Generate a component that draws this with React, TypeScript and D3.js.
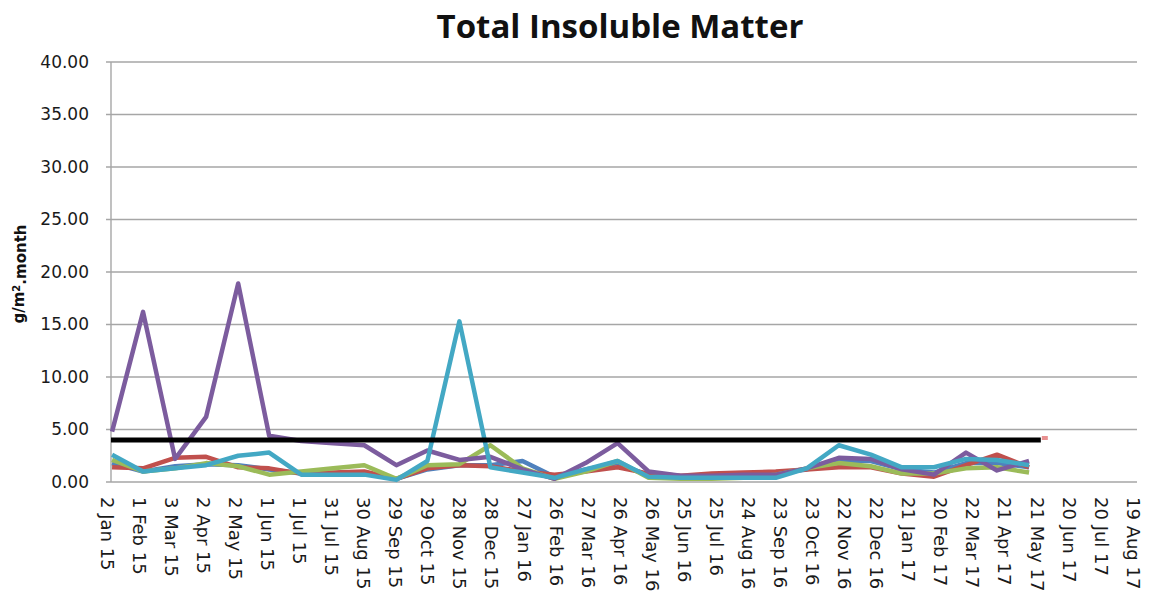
import * as d3 from 'd3';
import { useEffect, useRef } from 'react';

// sampling dates (roughly monthly)
const sampleDates = [
    '2015-01-03', '2015-02-01', '2015-03-03', '2015-04-01', '2015-05-01', '2015-05-30',
    '2015-06-29', '2015-07-29', '2015-08-27', '2015-09-26', '2015-10-25', '2015-11-24',
    '2015-12-23', '2016-01-22', '2016-02-21', '2016-03-21', '2016-04-20', '2016-05-19',
    '2016-06-18', '2016-07-17', '2016-08-16', '2016-09-15', '2016-10-14', '2016-11-13',
    '2016-12-13', '2017-01-11', '2017-02-10', '2017-03-12', '2017-04-10', '2017-05-10',
];

const blueValues = [1.8, 1.0, 1.5, 1.7, 1.6, 1.2, 0.8, 0.8, 0.9, 0.3, 1.2, 1.6, 1.6, 2.0, 0.5,
    1.2, 1.8, 0.6, 0.5, 0.6, 0.7, 0.8, 1.2, 2.0, 2.0, 1.2, 0.9, 1.8, 1.8, 1.4];
const redValues = [1.4, 1.3, 2.3, 2.4, 1.4, 1.3, 0.8, 0.9, 1.0, 0.3, 1.3, 1.6, 1.5, 1.0, 0.7,
    1.0, 1.4, 0.8, 0.6, 0.8, 0.9, 1.0, 1.2, 1.4, 1.4, 0.8, 0.5, 1.6, 2.6, 1.4];
const greenValues = [2.1, 1.0, 1.3, 1.8, 1.5, 0.7, 1.0, 1.3, 1.6, 0.3, 1.6, 1.7, 3.5, 1.3, 0.3,
    1.0, 2.0, 0.4, 0.3, 0.3, 0.4, 0.7, 1.3, 1.8, 1.5, 0.8, 0.8, 1.3, 1.4, 0.9];
const purpleValues = [4.8, 16.2, 2.2, 6.2, 18.9, 4.4, 3.9, 3.7, 3.5, 1.6, 3.0, 2.1, 2.4, 1.2, 0.3,
    1.8, 3.7, 1.0, 0.6, 0.6, 0.7, 0.7, 1.3, 2.3, 2.2, 1.2, 0.7, 2.8, 1.1, 2.0];
const tealValues = [2.6, 1.0, 1.3, 1.6, 2.5, 2.8, 0.7, 0.7, 0.7, 0.2, 2.0, 15.3, 1.4, 0.9, 0.4,
    1.2, 2.0, 0.5, 0.4, 0.4, 0.4, 0.4, 1.3, 3.5, 2.6, 1.4, 1.4, 2.2, 2.1, 1.6];

const limitDates = ['2015-01-02', '2017-05-21'];
const limitValues = [4, 4];

const xTickLabels = [
    '2 Jan 15', '1 Feb 15', '3 Mar 15', '2 Apr 15', '2 May 15', '1 Jun 15', '1 Jul 15', '31 Jul 15',
    '30 Aug 15', '29 Sep 15', '29 Oct 15', '28 Nov 15', '28 Dec 15', '27 Jan 16', '26 Feb 16', '27 Mar 16',
    '26 Apr 16', '26 May 16', '25 Jun 16', '25 Jul 16', '24 Aug 16', '23 Sep 16', '23 Oct 16', '22 Nov 16',
    '22 Dec 16', '21 Jan 17', '20 Feb 17', '22 Mar 17', '21 Apr 17', '21 May 17', '20 Jun 17', '20 Jul 17',
    '19 Aug 17',
];
const yTicks = [0, 5, 10, 15, 20, 25, 30, 35, 40];

const series = [
    { name: 'blue', color: '#4F81BD', values: blueValues },
    { name: 'red', color: '#C0504D', values: redValues },
    { name: 'green', color: '#9BBB59', values: greenValues },
    { name: 'purple', color: '#7C5C9E', values: purpleValues },
    { name: 'teal', color: '#43A8C4', values: tealValues },
];

export default function App() {
    const svgRef = useRef<SVGSVGElement>(null);
    const width = 1154;
    const height = 593;
    const margin = { top: 62, right: 17, bottom: 111, left: 111 };

    useEffect(() => {
        const svg = d3.select(svgRef.current);
        svg.selectAll('*').remove();

        const parseIso = d3.utcParse('%Y-%m-%d');
        const parseLabel = d3.utcParse('%d %b %y');
        const tickDates = xTickLabels.map((l) => parseLabel(l) as Date);

        const xScale = d3.scaleUtc()
            .domain([tickDates[0], tickDates[tickDates.length - 1]])
            .range([margin.left, width - margin.right]);
        const yScale = d3.scaleLinear().domain([0, 40]).range([height - margin.bottom, margin.top]);

        svg.append('rect').attr('width', width).attr('height', height).attr('fill', 'white');

        // gridlines
        svg.append('g')
            .selectAll('line')
            .data(yTicks)
            .enter()
            .append('line')
            .attr('x1', margin.left - 5)
            .attr('x2', width - margin.right)
            .attr('y1', (d) => yScale(d))
            .attr('y2', (d) => yScale(d))
            .attr('stroke', '#a6a6a6')
            .attr('stroke-width', 1.4);

        svg.append('line')
            .attr('x1', margin.left)
            .attr('x2', margin.left)
            .attr('y1', yScale(40))
            .attr('y2', yScale(0))
            .attr('stroke', '#a6a6a6')
            .attr('stroke-width', 1.4);

        // y tick labels
        svg.append('g')
            .selectAll('text')
            .data(yTicks)
            .enter()
            .append('text')
            .attr('x', margin.left - 22)
            .attr('y', (d) => yScale(d))
            .attr('dy', '0.35em')
            .attr('text-anchor', 'end')
            .style('font-family', 'DejaVu Sans')
            .style('font-size', '17px')
            .attr('fill', '#1a1a1a')
            .text((d) => d.toFixed(2));

        // x tick labels
        svg.append('g')
            .selectAll('text')
            .data(tickDates)
            .enter()
            .append('text')
            .attr('transform', (d) => `translate(${xScale(d) - 4}, ${height - margin.bottom + 15}) rotate(90)`)
            .attr('dy', '0.35em')
            .style('font-family', 'DejaVu Sans')
            .style('font-size', '18px')
            .attr('fill', '#1a1a1a')
            .text((_, i) => xTickLabels[i]);

        const line = d3.line<[Date, number]>()
            .x((d) => xScale(d[0]))
            .y((d) => yScale(d[1]));

        series.forEach((s) => {
            const pts = sampleDates.map((d, i) => [parseIso(d) as Date, s.values[i]] as [Date, number]);
            svg.append('path')
                .datum(pts)
                .attr('d', line)
                .attr('fill', 'none')
                .attr('stroke', s.color)
                .attr('stroke-width', 4.5)
                .attr('stroke-linejoin', 'round');
        });

        const limitPts = limitDates.map((d, i) => [parseIso(d) as Date, limitValues[i]] as [Date, number]);
        svg.append('path')
            .datum(limitPts)
            .attr('d', line)
            .attr('fill', 'none')
            .attr('stroke', 'black')
            .attr('stroke-width', 5);

        const last = limitPts[limitPts.length - 1];
        svg.append('rect')
            .attr('x', xScale(last[0]) + 1)
            .attr('y', yScale(last[1]) - 4)
            .attr('width', 6)
            .attr('height', 4)
            .attr('fill', '#e89090');

        svg.append('text')
            .attr('x', 620)
            .attr('y', 38)
            .attr('text-anchor', 'middle')
            .style('font-family', 'Open Sans')
            .style('font-weight', '700')
            .style('font-size', '33px')
            .attr('fill', '#111')
            .text('Total Insoluble Matter');

        const yLabel = svg.append('text')
            .attr('transform', `translate(24, ${(yScale(25) + yScale(15)) / 2 + 2}) rotate(-90)`)
            .attr('text-anchor', 'middle')
            .style('font-family', 'DejaVu Sans')
            .style('font-weight', '700')
            .style('font-size', '15px')
            .attr('fill', '#111');
        yLabel.append('tspan').text('g/m');
        yLabel.append('tspan').attr('dy', '-0.4em').style('font-size', '10px').text('2');
        yLabel.append('tspan').attr('dy', '0.4em').text('.month');
    }, []);

    return (
        <svg ref={svgRef} width={width} height={height} style={{ position: 'absolute', left: 0, top: 0 }}></svg>
    );
}
